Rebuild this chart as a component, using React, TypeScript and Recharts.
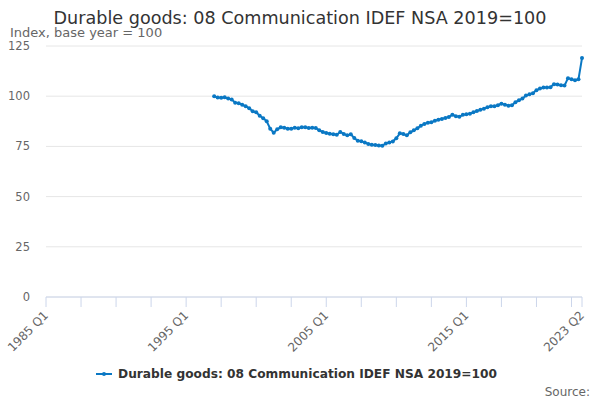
import React from "react";
import { LineChart, Line, XAxis, YAxis, CartesianGrid, Legend } from "recharts";

// quarter index 0 = 1985 Q1; series starts 1997 Q1 (index 48)
const START_INDEX = 48;
const SERIES_NAME = "Durable goods: 08 Communication IDEF NSA 2019=100";

const values = [
  100, 99.3, 99.2, 99.5, 98.8, 98.3, 96.8, 96.5, 95.8, 95.0,
  94.0, 92.5, 92.0, 90.3, 89.0, 87.5, 83.8, 81.8, 83.5, 84.5,
  84.3, 83.8, 83.8, 84.3, 84.0, 84.5, 84.5, 84.2, 84.3, 84.2,
  83.0, 82.2, 81.7, 81.3, 81.0, 80.8, 82.2, 81.2, 80.5, 81.0,
  79.2, 77.8, 77.6, 77.0, 76.2, 75.8, 75.7, 75.5, 75.3, 76.5,
  77.0, 77.5, 79.0, 81.5, 81.2, 80.5, 82.0, 83.0, 84.0, 85.3,
  86.2, 86.8, 87.0, 87.8, 88.3, 88.7, 89.2, 89.6, 90.8, 90.0,
  89.8, 90.7, 91.0, 91.2, 92.0, 92.6, 93.2, 93.8, 94.5, 95.0,
  95.0, 95.5, 96.3, 95.8, 95.3, 95.5, 97.0, 98.0, 98.8, 100.3,
  101.0, 101.5, 103.0, 103.8, 104.3, 104.3, 104.5, 106.0, 105.8, 105.5,
  105.3, 109.0, 108.5, 108.0, 108.5, 119.0,
];

const xTicks = [0, 10, 20, 30, 40, 50, 60, 70, 80, 90, 100, 110, 120, 130, 140, 150, 153];
const xTickLabels: Record<number, string> = {
  0: "1985 Q1",
  40: "1995 Q1",
  80: "2005 Q1",
  120: "2015 Q1",
  153: "2023 Q2",
};
const yTicks = [0, 25, 50, 75, 100, 125];

const data = values.map((v, k) => ({ q: START_INDEX + k, value: v }));

const BLUE = "#0a78c4";
const FONT = "'DejaVu Sans', sans-serif";

function QuarterTick(props: any) {
  const { x, y, payload } = props;
  const label = xTickLabels[payload.value];
  if (!label) return null;
  const ax = x + 3;
  const ay = y + 7;
  return (
    <text
      x={ax}
      y={ay}
      transform={`rotate(-45, ${ax}, ${ay})`}
      textAnchor="end"
      fontSize={12}
      fill="#666666"
      fontFamily={FONT}
    >
      {label}
    </text>
  );
}

function LegendContent() {
  return (
    <div
      style={{
        display: "flex",
        justifyContent: "center",
        alignItems: "center",
        fontFamily: FONT,
        fontSize: 12.2,
        fontWeight: "bold",
        color: "#333333",
      }}
    >
      <svg width={20} height={10} style={{ marginRight: 4 }}>
        <line x1={2} y1={5} x2={18} y2={5} stroke={BLUE} strokeWidth={2} />
        <circle cx={10} cy={5} r={2} fill={BLUE} />
      </svg>
      <span>{SERIES_NAME}</span>
    </div>
  );
}

export default function App() {
  return (
    <div style={{ position: "absolute", left: 0, top: 0, width: 600, height: 400, fontFamily: FONT }}>
      <div
        style={{
          position: "absolute",
          top: 8,
          left: 0,
          width: 600,
          textAlign: "center",
          fontSize: 17.6,
          color: "#333333",
        }}
      >
        {SERIES_NAME}
      </div>
      <div style={{ position: "absolute", top: 25, left: 10, fontSize: 13, color: "#666666" }}>
        Index, base year = 100
      </div>
      <LineChart
        width={600}
        height={400}
        data={data}
        margin={{ top: 46, right: 18, left: 9, bottom: 13 }}
      >
        <CartesianGrid horizontal vertical={false} stroke="#e6e6e6" />
        <XAxis
          dataKey="q"
          type="number"
          domain={[0, 153]}
          ticks={xTicks}
          interval={0}
          tick={<QuarterTick />}
          tickSize={10}
          tickLine={{ stroke: "#ccd6eb" }}
          axisLine={{ stroke: "#ccd6eb" }}
          height={70}
        />
        <YAxis
          domain={[0, 125]}
          ticks={yTicks}
          axisLine={false}
          tickLine={false}
          tickMargin={10}
          width={37}
          tick={{ fontSize: 11.5, fill: "#666666", fontFamily: FONT }}
        />
        <Legend verticalAlign="bottom" height={20} content={<LegendContent />} />
        <Line
          type="linear"
          dataKey="value"
          name={SERIES_NAME}
          stroke={BLUE}
          strokeWidth={2}
          dot={{ r: 2, fill: BLUE, stroke: BLUE, strokeWidth: 0 }}
          activeDot={false}
          isAnimationActive={false}
        />
      </LineChart>
      <div
        style={{
          position: "absolute",
          top: 385,
          right: 10,
          fontSize: 12,
          color: "#666666",
        }}
      >
        Source:
      </div>
    </div>
  );
}
